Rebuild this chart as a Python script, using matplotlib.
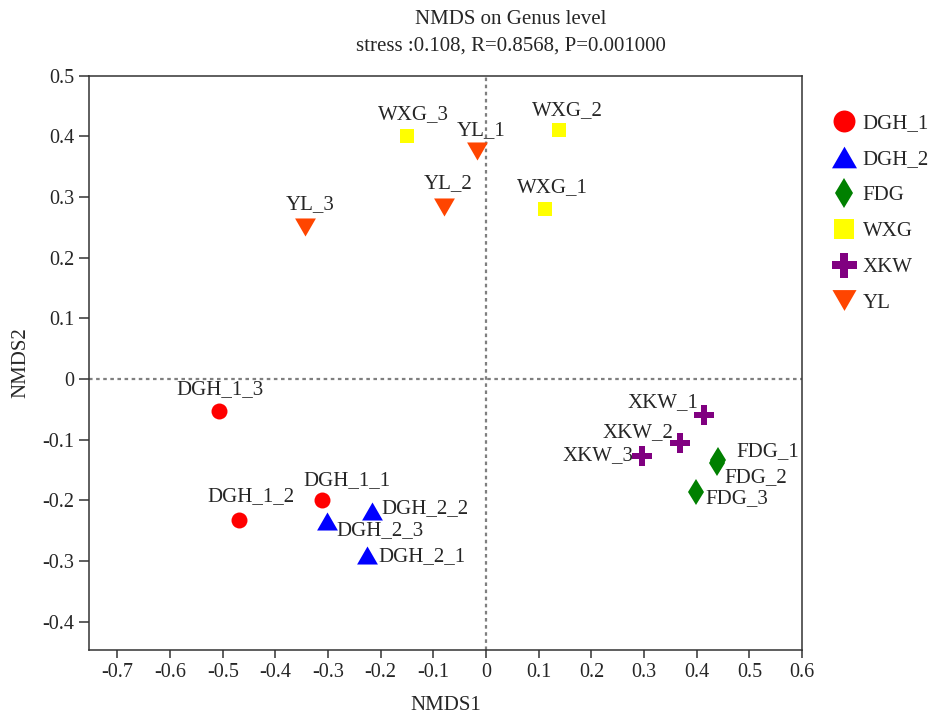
import matplotlib.pyplot as plt
from matplotlib.lines import Line2D

plt.rcParams['font.family'] = ['Liberation Serif', 'DejaVu Serif']
plt.rcParams['text.color'] = '#262626'
plt.rcParams['axes.labelcolor'] = '#262626'

# NMDS scores per sample
samples = ['DGH_1_1', 'DGH_1_2', 'DGH_1_3',
           'DGH_2_1', 'DGH_2_2', 'DGH_2_3',
           'FDG_1', 'FDG_2', 'FDG_3',
           'WXG_1', 'WXG_2', 'WXG_3',
           'XKW_1', 'XKW_2', 'XKW_3',
           'YL_1', 'YL_2', 'YL_3']
groups = ['DGH_1'] * 3 + ['DGH_2'] * 3 + ['FDG'] * 3 + ['WXG'] * 3 + ['XKW'] * 3 + ['YL'] * 3
nmds1 = [-0.311, -0.469, -0.507,
         -0.226, -0.216, -0.302,
         0.441, 0.438, 0.398,
         0.111, 0.139, -0.150,
         0.414, 0.368, 0.297,
         -0.018, -0.080, -0.343]
nmds2 = [-0.199, -0.232, -0.053,
         -0.290, -0.218, -0.235,
         -0.133, -0.139, -0.186,
         0.281, 0.410, 0.401,
         -0.059, -0.106, -0.127,
         0.375, 0.284, 0.251]

group_names = ['DGH_1', 'DGH_2', 'FDG', 'WXG', 'XKW', 'YL']

# equilateral triangles, centred on their bounding box
tri_up = [(0, 0.5), (-0.577, -0.5), (0.577, -0.5), (0, 0.5)]
tri_down = [(0, -0.5), (-0.577, 0.5), (0.577, 0.5), (0, -0.5)]

# marker, colour, size on plot, size in legend
style = {
    'DGH_1': ('o', '#FF0000', 11.5, 15.8),
    'DGH_2': (tri_up, '#0000FF', 15, 18),
    'FDG': ('d', '#008000', 12.8, 14.8),
    'WXG': ('s', '#FFFF00', 10, 14.4),
    'XKW': ('P', '#800080', 13.7, 18),
    'YL': (tri_down, '#FF4500', 15, 17.3),
}

# label offsets in pixels (dx, dy) and horizontal alignment
label_pos = {
    'DGH_1_1': (25, 19, 'center'), 'DGH_1_2': (12, 23, 'center'), 'DGH_1_3': (1, 21, 'center'),
    'DGH_2_1': (11, -2, 'left'), 'DGH_2_2': (9, 3, 'left'), 'DGH_2_3': (9, -9, 'left'),
    'FDG_1': (18, 8, 'left'), 'FDG_2': (8, -14, 'left'), 'FDG_3': (10, -7, 'left'),
    'WXG_1': (8, 21, 'center'), 'WXG_2': (8, 20, 'center'), 'WXG_3': (6, 21, 'center'),
    'XKW_1': (-6, 12, 'right'), 'XKW_2': (-6, 11, 'right'), 'XKW_3': (-9, 0, 'right'),
    'YL_1': (5, 21, 'center'), 'YL_2': (4, 23, 'center'), 'YL_3': (5, 22, 'center'),
}

fig = plt.figure(figsize=(9.34, 7.14), dpi=100)
ax = fig.add_axes([0.0953, 0.0896, 0.7634, 0.8044])

ax.axhline(0, color='#7f7f7f', lw=1.6, ls=(0, (1.6, 1.6)), zorder=1)
ax.axvline(0, color='#7f7f7f', lw=1.6, ls=(0, (1.6, 1.6)), zorder=1)

for g in group_names:
    mk, col, ms, _ = style[g]
    xs = [x for x, gg in zip(nmds1, groups) if gg == g]
    ys = [y for y, gg in zip(nmds2, groups) if gg == g]
    ax.plot(xs, ys, ls='none', marker=mk, color=col, ms=ms, mew=0, zorder=3)

for name, x, y in zip(samples, nmds1, nmds2):
    dx, dy, ha = label_pos[name]
    ax.annotate(name, (x, y), xytext=(dx, dy), textcoords='offset pixels',
                ha=ha, va='center', fontsize=15, zorder=4)

ax.set_xlim(-0.754, 0.6)
ax.set_ylim(-0.447, 0.5)
ax.set_xticks([-0.7, -0.6, -0.5, -0.4, -0.3, -0.2, -0.1, 0, 0.1, 0.2, 0.3, 0.4, 0.5, 0.6])
ax.set_xticklabels(['-0.7', '-0.6', '-0.5', '-0.4', '-0.3', '-0.2', '-0.1', '0',
                    '0.1', '0.2', '0.3', '0.4', '0.5', '0.6'])
ax.set_yticks([-0.4, -0.3, -0.2, -0.1, 0, 0.1, 0.2, 0.3, 0.4, 0.5])
ax.set_yticklabels(['-0.4', '-0.3', '-0.2', '-0.1', '0', '0.1', '0.2', '0.3', '0.4', '0.5'])
ax.tick_params(axis='x', length=5.5, width=1.1, color='#333333', labelsize=14.5,
               labelcolor='#262626', pad=4)
ax.tick_params(axis='y', length=7, width=1.1, color='#333333', labelsize=14.5,
               labelcolor='#262626', pad=3.5)
for sp in ax.spines.values():
    sp.set_linewidth(1.1)
    sp.set_color('#333333')

ax.set_xlabel('NMDS1', fontsize=15, labelpad=10)
ax.set_ylabel('NMDS2', fontsize=15, labelpad=9)

fig.text(511 / 934, 1 - 19 / 714, 'NMDS on Genus level', ha='center', va='center', fontsize=15)
fig.text(511 / 934, 1 - 46 / 714, 'stress :0.108, R=0.8568, P=0.001000',
         ha='center', va='center', fontsize=15)

handles = [Line2D([], [], ls='none', marker=style[g][0], color=style[g][1],
                  ms=style[g][3], mew=0) for g in group_names]
fig.legend(handles, group_names, loc='upper left', bbox_to_anchor=(834 / 934, 1 - 114 / 714),
           frameon=False, fontsize=15, handlelength=1.0, handletextpad=0.37,
           labelspacing=0.78, borderpad=0, borderaxespad=0)

fig.savefig('out.png', dpi=100)
